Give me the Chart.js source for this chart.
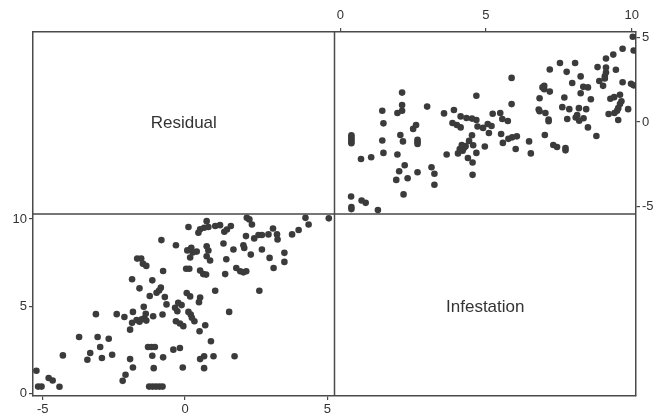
<!DOCTYPE html>
<html>
<head>
<meta charset="utf-8">
<script src="https://cdn.jsdelivr.net/npm/chart.js@4/dist/chart.umd.min.js"></script>
<style>
  html, body { margin: 0; padding: 0; background: #fff; }
  canvas { display: block; }
</style>
</head>
<body>
<canvas id="spm" width="658" height="417"></canvas>
<script>
// one observation per index: residual and infestation
const residual = [
  -5.22, -5.16, -5.04, -4.79, -4.65, -4.41, -4.29, -3.72, -3.13, -3.43,
  -3.33, -3.07, -2.98, -2.92, -2.68, -2.56, -2.40, -2.13, -2.19, -2.09,
  -1.93, -1.83, -1.93, -1.86, -1.83, -1.86, -1.70, -1.60, -1.52, -1.43,
  -1.36, -1.68, -1.54, -1.48, -1.36, -1.60, -1.45, -1.38, -1.24, -1.30,
  -1.18, -1.06, -1.26, -1.14, -1.02, -0.90, -0.79, -1.15, -1.10, -1.15,
  -1.12, -1.00, -0.91, -0.85, -0.83, -0.77, -0.77, -0.79, -0.71, -0.65,
  -0.41, -0.32, -0.35, -0.27, -0.18, -0.32, -0.18, -0.06, -0.24, -0.12,
  -0.08, 0.06, 0.18, 0.53, 0.04, 0.15, 0.12, 0.18, 0.27, 0.12,
  0.20, 0.24, 0.33, 0.41, 0.49, 0.51, 0.71, 0.53, 0.64, 0.74,
  0.53, 0.67, 0.67, 0.76, 0.82, 0.76, 0.88, 0.47, 0.53, 0.67,
  0.82, 0.76, 0.91, 1.00, 1.06, 1.06, 1.23, 1.38, 1.47, 1.61,
  1.35, 1.45, 1.41, 1.55, 1.70, 1.74, 1.80, 1.94, 2.05, 2.15,
  2.05, 2.08, 2.14, 2.17, 2.26, 2.35, 2.31, 2.43, 2.58, 2.70,
  2.61, 2.70, 2.93, 3.09, 2.97, 3.11, 3.23, 3.25, 3.49, 3.49,
  3.76, 3.99, 4.23, 4.34, 5.05, 0.22, 0.08
]
const infestation = [
  1.29, 0.38, 0.38, 0.87, 0.73, 0.37, 2.17, 3.23, 4.54, 1.92,
  2.31, 3.23, 2.65, 2.02, 3.13, 2.21, 4.54, 4.38, 0.71, 1.06,
  1.96, 1.48, 3.65, 4.04, 4.67, 6.54, 4.20, 4.10, 4.25, 4.30,
  4.17, 7.73, 7.73, 7.44, 7.31, 6.02, 4.96, 4.56, 5.58, 2.65,
  2.65, 2.65, 0.38, 0.38, 0.38, 0.38, 0.38, 2.15, 1.44, 6.48,
  4.42, 5.77, 5.90, 6.06, 8.79, 7.02, 2.06, 4.52, 5.52, 5.10,
  2.50, 8.50, 4.90, 4.71, 2.60, 4.13, 4.00, 3.85, 5.19, 5.06,
  1.48, 5.75, 5.56, 5.49, 7.15, 7.15, 9.54, 7.79, 8.08, 4.67,
  4.52, 4.33, 4.13, 8.13, 5.23, 3.56, 3.90, 7.04, 6.84, 6.81,
  1.96, 2.12, 1.44, 8.44, 8.19, 7.86, 7.62, 9.21, 9.41, 9.50,
  9.54, 9.88, 2.98, 2.12, 5.88, 9.60, 9.65, 9.27, 9.40, 9.60,
  8.60, 7.69, 6.84, 4.67, 8.25, 2.12, 7.19, 7.00, 6.94, 7.00,
  8.50, 8.34, 9.02, 10.07, 9.98, 9.69, 7.96, 8.89, 9.08, 9.08,
  5.88, 8.25, 9.12, 9.46, 7.77, 7.19, 9.12, 8.83, 8.06, 7.54,
  9.12, 9.37, 10.07, 9.69, 10.04, 8.35, 8.20
]
const varNames = ['Residual', 'Infestation']
const residualTicks = [-5, 0, 5]
const infestationTicks = [0, 5, 10]

// data range shown inside each panel
const resLo = -5.34, resHi = 5.25
const infLo = -0.16, infHi = 10.29
const resLoV = -5.45, resHiV = 5.33
const infLoH = -0.2, infHiH = 10.15

const ink = '#3b3b3b'
const frame = '#4a4a4a'
Chart.defaults.font.family = '"Liberation Sans", Arial, sans-serif'
Chart.defaults.color = '#333'

const lowerLeft = residual.map((r, i) => ({x: r, y: infestation[i]}))
const upperRight = residual.map((r, i) => ({x: infestation[i], y: r}))

function axis(pos, lo, hi, ticks, size) {
    const horiz = pos === 'top' || pos === 'bottom'
    return {
        type: 'linear',
        position: pos,
        min: lo,
        max: hi,
        grid: {drawOnChartArea: false, drawTicks: true, tickLength: 4, color: frame, lineWidth: 1.2},
        border: {display: true, color: frame, width: 1.5},
        ticks: {autoSkip: false, font: {size: 13}, padding: pos === 'top' ? 5 : 2, color: '#333'},
        afterBuildTicks: s => { s.ticks = ticks.map(v => ({value: v})) },
        afterFit: s => { if (horiz) s.height = size; else s.width = size }
    }
}

// cross lines and variable names on the diagonal
const panels = {
    id: 'panels',
    afterDraw(chart) {
        const {ctx, chartArea: a, scales} = chart
        const mx = scales.x1.getPixelForValue(resHi)
        const my = scales.y1.getPixelForValue(infHi)
        ctx.save()
        ctx.strokeStyle = frame
        ctx.lineWidth = 1.5
        ctx.beginPath()
        ctx.moveTo(mx, a.top); ctx.lineTo(mx, a.bottom)
        ctx.moveTo(a.left, my); ctx.lineTo(a.right, my)
        ctx.stroke()
        ctx.fillStyle = '#333'
        ctx.font = '17px "Liberation Sans", Arial, sans-serif'
        ctx.textAlign = 'center'
        ctx.textBaseline = 'middle'
        ctx.fillText(varNames[0], (a.left + mx) / 2, (a.top + my) / 2)
        ctx.fillText(varNames[1], (mx + a.right) / 2, (my + a.bottom) / 2 + 2)
        ctx.restore()
    }
}

new Chart(document.getElementById('spm'), {
    type: 'scatter',
    data: {
        datasets: [
            {data: lowerLeft, xAxisID: 'x1', yAxisID: 'y1'},
            {data: upperRight, xAxisID: 'x2', yAxisID: 'y2'}
        ]
    },
    options: {
        responsive: false,
        animation: false,
        events: [],
        layout: {padding: 0},
        elements: {point: {radius: 3.3, backgroundColor: ink, borderWidth: 0}},
        plugins: {legend: {display: false}, tooltip: {enabled: false}},
        scales: {
            x1: axis('bottom', resLo, resHi + (resHi - resLo), residualTicks, 21),
            y1: axis('left', infLo, infHi + (infHi - infLo), infestationTicks, 33),
            x2: axis('top', infLoH - (infHiH - infLoH), infHiH, infestationTicks, 32),
            y2: axis('right', resLoV - (resHiV - resLoV), resHiV, residualTicks, 22)
        }
    },
    plugins: [panels]
})
</script>
</body>
</html>
